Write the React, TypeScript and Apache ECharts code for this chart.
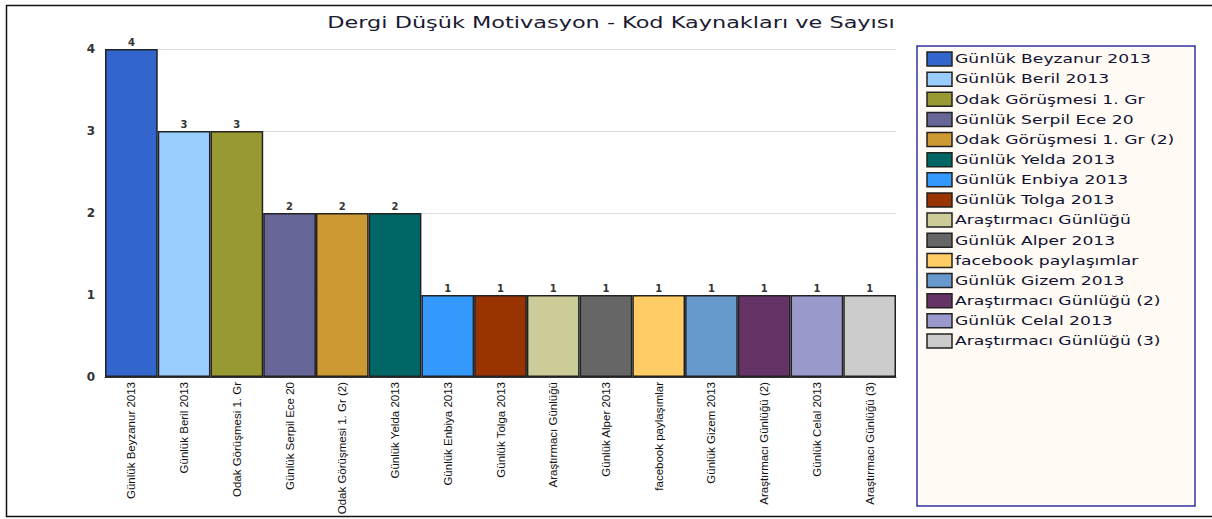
import React, { useEffect, useRef } from "react";
import * as echarts from "echarts";

const titleText = "Dergi Düşük Motivasyon - Kod Kaynakları ve Sayısı";
const categories = [
  "Günlük Beyzanur 2013",
  "Günlük Beril 2013",
  "Odak Görüşmesi 1. Gr",
  "Günlük Serpil Ece 20",
  "Odak Görüşmesi 1. Gr (2)",
  "Günlük Yelda 2013",
  "Günlük Enbiya 2013",
  "Günlük Tolga 2013",
  "Araştırmacı Günlüğü",
  "Günlük Alper 2013",
  "facebook paylaşımlar",
  "Günlük Gizem 2013",
  "Araştırmacı Günlüğü (2)",
  "Günlük Celal 2013",
  "Araştırmacı Günlüğü (3)",
];
const values = [4, 3, 3, 2, 2, 2, 1, 1, 1, 1, 1, 1, 1, 1, 1];
const colors = [
  "#3366cc", "#99ccff", "#999933", "#666699", "#cc9933",
  "#006666", "#3399ff", "#993300", "#cccc99", "#666666",
  "#ffcc66", "#6699cc", "#663366", "#9999cc", "#cccccc",
];
const yTicks = [0, 1, 2, 3, 4];

export default function App() {
  const ref = useRef<HTMLDivElement>(null);
  useEffect(() => {
    document.body.style.margin = "0";
    if (!ref.current) return;
    const chart = echarts.init(ref.current, null, { renderer: "svg" });
    const series = categories.map((name, i) => ({
      name,
      type: "bar",
      stack: "all",
      barCategoryGap: 0,
      data: categories.map((_, j) => (j === i ? values[i] : null)),
      itemStyle: { color: colors[i], borderColor: "#222222", borderWidth: 1.5 },
      label: {
        show: true,
        position: "top",
        distance: 2,
        fontFamily: "DejaVu Sans",
        fontSize: 10,
        fontWeight: "bold",
        color: "#333333",
      },
    }));
    const legendRowH = 20.14;
    const legendItems: any[] = [];
    categories.forEach((name, i) => {
      const cy = 59 + i * legendRowH;
      legendItems.push({
        type: "rect",
        shape: { x: 927, y: cy - 7, width: 25, height: 14 },
        style: { fill: colors[i], stroke: "#222222", lineWidth: 1.5 },
      });
      legendItems.push({
        type: "text",
        x: 955,
        y: cy,
        scaleX: 1.32,
        style: {
          text: name,
          fontFamily: "DejaVu Sans",
          fontSize: 13,
          fill: "#111133",
          textAlign: "left",
          textVerticalAlign: "middle",
        },
      });
    });
    chart.setOption({
      animation: false,
      backgroundColor: "#ffffff",
      graphic: [
        { type: "line", shape: { x1: 6, y1: 5.5, x2: 1212, y2: 5.5 }, style: { stroke: "#111", lineWidth: 1.5 } },
        { type: "line", shape: { x1: 6.5, y1: 5, x2: 6.5, y2: 517 }, style: { stroke: "#111", lineWidth: 1.5 } },
        { type: "line", shape: { x1: 6, y1: 516.5, x2: 1212, y2: 516.5 }, style: { stroke: "#111", lineWidth: 1.5 } },
        {
          type: "text",
          x: 611,
          y: 23,
          scaleX: 1.4,
          style: {
            text: titleText,
            fontFamily: "DejaVu Sans",
            fontSize: 16,
            fill: "#1a1a33",
            textAlign: "center",
            textVerticalAlign: "middle",
          },
        },
        {
          type: "rect",
          shape: { x: 917, y: 46, width: 278, height: 460 },
          style: { fill: "#fffbf4", stroke: "#3333a0", lineWidth: 1.5 },
        },
        ...legendItems,
      ],
      grid: { left: 105, top: 49, width: 791, height: 328, containLabel: false, outerBoundsMode: "none" },
      xAxis: {
        type: "category",
        data: categories,
        axisTick: { show: false },
        axisLine: { show: true, lineStyle: { color: "#333333", width: 1 } },
        axisLabel: {
          rotate: 90,
          interval: 0,
          margin: 5,
          fontFamily: "Liberation Sans, Arial, sans-serif",
          fontSize: 11.5,
          color: "#111111",
        },
      },
      yAxis: {
        type: "value",
        min: 0,
        max: 4,
        interval: 1,
        axisLine: { show: false },
        axisTick: { show: false },
        splitLine: { lineStyle: { color: "#dddddd", width: 1 } },
        axisLabel: {
          margin: 10,
          fontFamily: "DejaVu Sans",
          fontSize: 12,
          fontWeight: "bold",
          color: "#333333",
          formatter: (v: number) => (yTicks.includes(v) ? String(v) : ""),
        },
      },
      series,
    });
    return () => chart.dispose();
  }, []);
  return <div ref={ref} style={{ width: 1212, height: 519 }} />;
}
